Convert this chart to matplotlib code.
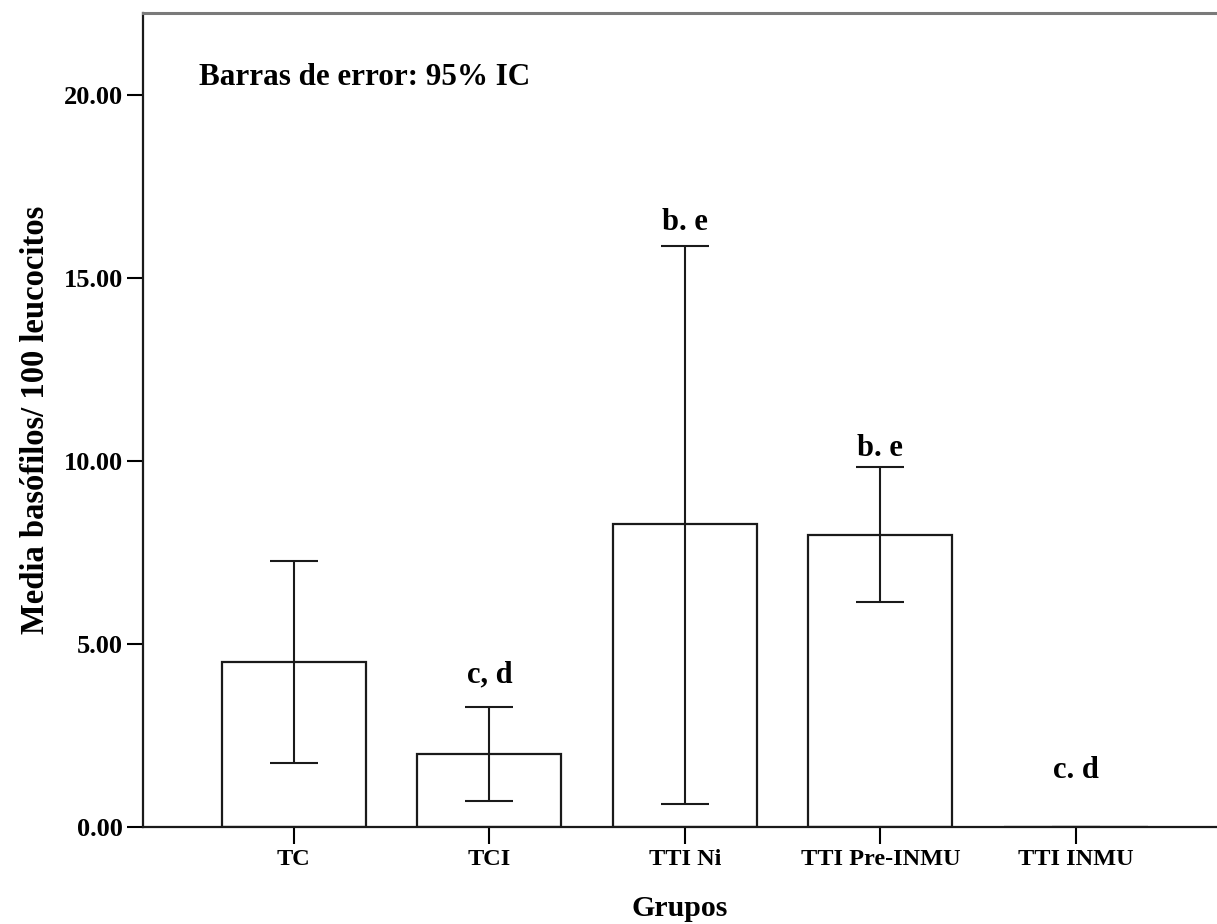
import matplotlib
matplotlib.use("Agg")
import matplotlib.pyplot as plt

groups = ["TC", "TCI", "TTI Ni", "TTI Pre-INMU", "TTI INMU"]
means = [4.50, 2.00, 8.27, 7.97, 0.00]
ci_low = [1.74, 0.70, 0.64, 6.14, 0.00]
ci_high = [7.26, 3.29, 15.88, 9.83, 0.00]
sig_labels = ["", "c, d", "b. e", "b. e", "c. d"]
sig_y = [0.0, 3.95, 16.30, 10.15, 1.35]
yticks = [0, 5, 10, 15, 20]

plt.rcParams['font.family'] = ['Liberation Serif', 'DejaVu Serif']

fig = plt.figure(figsize=(12.17, 9.24), dpi=100)
ax = fig.add_axes([143/1217, 1-827/924, 1-143/1217, (827-13)/924])

x = list(range(len(groups)))
yerr = [[m - l for m, l in zip(means, ci_low)], [h - m for m, h in zip(means, ci_high)]]
ax.bar(x, means, width=0.737, color='white', edgecolor='#1a1a1a', linewidth=1.6, zorder=2)
ax.errorbar(x, means, yerr=yerr, fmt='none', ecolor='#1a1a1a', elinewidth=1.5,
            capsize=17, capthick=1.5, zorder=3)

for xi, lab, yy in zip(x, sig_labels, sig_y):
    if lab:
        ax.text(xi, yy, lab, ha='center', va='baseline', fontsize=22, fontweight='bold')

ax.text(0.052, 0.9115, "Barras de error: 95% IC", transform=ax.transAxes,
        fontsize=22.4, fontweight='bold', va='baseline', ha='left')

ax.set_xlim(-0.772, 4.722)
ax.set_ylim(0, 22.24)
ax.set_yticks(yticks)
ax.set_yticklabels([f"{v:.2f}" for v in yticks], fontsize=19, fontweight='bold')
ax.set_xticks(x)
ax.set_xticklabels(groups, fontsize=17.5, fontweight='bold')
ax.tick_params(axis='y', length=11.5, width=1.5, pad=3, direction='out')
ax.tick_params(axis='x', length=12, width=1.5, pad=4, direction='out')

ax.set_ylabel("Media basófilos/ 100 leucocitos", fontsize=23.5, fontweight='bold', labelpad=9)
ax.set_xlabel("Grupos", fontsize=21.5, fontweight='bold', labelpad=18)

for s in ['left', 'bottom']:
    ax.spines[s].set_linewidth(1.6)
    ax.spines[s].set_color('#1a1a1a')
ax.spines['top'].set_linewidth(2.2)
ax.spines['top'].set_color('#7a7a7a')
ax.spines['right'].set_visible(False)

fig.savefig("out.png", dpi=100)
